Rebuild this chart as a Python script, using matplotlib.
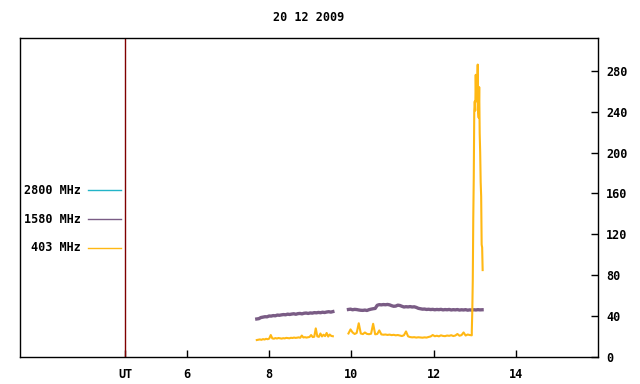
import numpy as np
import matplotlib
matplotlib.use("Agg")
import matplotlib.pyplot as plt

plt.rcParams['font.family'] = 'DejaVu Sans Mono'
plt.rcParams['font.weight'] = 'bold'
plt.rcParams['font.size'] = 8.5

title = "20 12 2009"
labels = ["2800 MHz", "1580 MHz", "403 MHz"]
colors = ["#22b4c8", "#7a5c85", "#ffb814"]

# 1580 MHz, two pieces (start hour, end hour, values)
p1_span = (7.70, 9.55)
p1_vals = [37.2, 37.5, 38.6, 39.0, 39.4, 39.3, 40.1, 40.0, 40.5, 40.3, 41.0, 40.8,
           41.2, 41.5, 41.3, 41.9, 41.6, 42.0, 42.3, 41.8, 42.4, 42.6, 42.2, 42.8,
           43.0, 42.6, 43.1, 42.9, 43.4, 43.2, 43.6, 43.3, 43.8, 43.5, 44.0, 44.3,
           43.9, 44.4]
p2_span = (9.93, 13.18)
p2_vals = [46.5, 46.8, 46.2, 46.6, 46.4, 46.0, 45.7, 45.6, 45.9, 45.5, 46.3, 46.8,
           47.2, 47.5, 50.6, 51.2, 51.0, 51.3, 51.1, 51.4, 51.0, 50.2, 49.6, 49.8,
           50.7, 50.4, 49.6, 48.9, 49.2, 49.0, 49.3, 48.9, 49.1, 48.5, 47.6, 47.2,
           46.8, 46.9, 46.5, 46.7, 46.4, 46.6, 46.2, 46.5, 46.3, 46.6, 46.1, 46.4,
           46.2, 46.5, 46.0, 46.3, 46.1, 46.4, 45.9, 46.2, 46.0, 46.3, 45.8, 46.1,
           45.9, 46.2, 46.0, 46.3, 46.1, 46.2]

# 403 MHz
g1_span = (7.70, 9.55)
g1_vals = [16.6, 16.9, 17.2, 16.8, 17.5, 17.1, 17.8, 17.4, 18.0, 21.5,
           18.2, 17.9, 18.5, 18.1, 18.6, 18.3, 18.0, 18.4, 18.2, 18.7,
           18.5, 18.3, 18.8, 18.6, 19.0, 18.7, 18.9, 19.2, 18.8, 21.0,
           19.1, 19.4, 19.0, 19.3, 19.6, 21.5, 19.5, 19.8, 28.0, 20.2,
           19.7, 23.0, 20.1, 21.8, 20.4, 23.5, 20.0, 22.0, 20.6, 20.3]
g2_span = (9.93, 12.93)
g2_vals = [23.0, 27.0, 24.0, 22.5, 23.5, 33.0, 23.0, 22.4, 24.0, 22.6,
           22.3, 22.8, 32.5, 22.2, 22.5, 26.0, 22.1, 21.8, 22.0, 21.6,
           21.9, 21.4, 21.7, 21.2, 21.5, 21.0, 20.5, 21.3, 25.0, 20.2,
           19.5, 19.2, 19.4, 19.0, 19.3, 19.1, 18.9, 19.2, 19.0, 19.6,
           20.1, 21.5, 20.3, 20.8, 20.2, 21.2, 20.6, 20.4, 21.0, 20.7,
           21.3, 20.5, 21.0, 22.5, 20.8, 21.4, 24.0, 21.0, 22.0, 21.5, 21.2]
burst_t = [12.93, 12.942, 12.954, 12.966, 12.978, 12.99, 13.002, 13.014, 13.026,
           13.038, 13.05, 13.062, 13.074, 13.086, 13.098, 13.11, 13.122, 13.134,
           13.146, 13.158, 13.17, 13.182, 13.194]
burst_v = [25, 45, 75, 136, 176, 241, 250, 241, 276, 250, 273, 262, 286, 240,
           234, 264, 219, 200, 171, 157, 110, 107, 85]

xticks = [4.5, 6, 8, 10, 12, 14]
xticklabels = ["UT", "6", "8", "10", "12", "14"]
yticks = [0, 40, 80, 120, 160, 200, 240, 280]


def seg(span, vals):
    return np.linspace(span[0], span[1], len(vals)), np.array(vals)


fig = plt.figure(figsize=(6.4, 3.84), dpi=100)
ax = fig.add_axes([20/640, 1-357/384, 578/640, 319/384])

for span, vals in [(p1_span, p1_vals), (p2_span, p2_vals)]:
    t, v = seg(span, vals)
    ax.plot(t, v, color=colors[1], lw=2.4)

t1, v1 = seg(g1_span, g1_vals)
ax.plot(t1, v1, color=colors[2], lw=1.5)
t2, v2 = seg(g2_span, g2_vals)
ax.plot(np.concatenate([t2, burst_t]), np.concatenate([v2, burst_v]),
        color=colors[2], lw=1.5)

ax.axvline(4.5, color="#800000", lw=1)

ax.set_xlim(1.94, 16.0)
ax.set_ylim(0, 312)
ax.set_xticks(xticks)
ax.set_xticklabels(xticklabels)
ax.set_yticks(yticks)
ax.yaxis.tick_right()
ax.tick_params(direction="in", length=5, width=1, pad=8, colors="black")
ax.tick_params(axis="y", pad=6)
ax.tick_params(top=False, left=False)
for s in ax.spines.values():
    s.set_linewidth(1)

ax.set_title(title, pad=12, fontsize=8.5, fontweight="bold")

# key, gnuplot style: label then line sample
rows = [0.5235, 0.4326, 0.3417]
for lab, col, y in zip(labels, colors, rows):
    ax.text(0.106, y, lab, transform=ax.transAxes, ha="right", va="center")
    ax.plot([0.1176, 0.1747], [y, y], transform=ax.transAxes, color=col, lw=1)

fig.savefig("out.png", dpi=100)
